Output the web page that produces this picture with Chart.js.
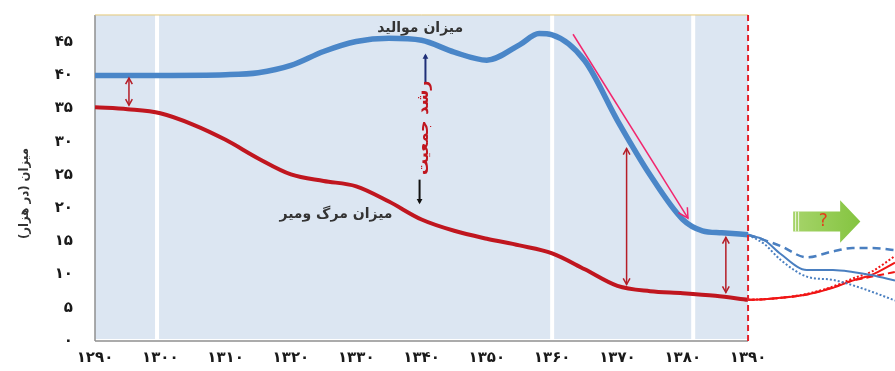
<!DOCTYPE html>
<html lang="fa">
<head>
<meta charset="utf-8">
<script src="https://cdn.jsdelivr.net/npm/chart.js@4/dist/chart.umd.min.js"></script>
<style>
  html, body { margin: 0; padding: 0; background: #ffffff; }
  #wrap { position: relative; width: 895px; height: 371px; }
  canvas { display: block; }
</style>
</head>
<body>
<div id="wrap"><canvas id="chart" width="895" height="371" dir="rtl"></canvas></div>
<script>
// Crude birth rate (per thousand), 1290–1390
const birthYears = [1290, 1300, 1310, 1315, 1320, 1325, 1330, 1335, 1340, 1345, 1350, 1355, 1358, 1360, 1365, 1370, 1375, 1380, 1383, 1386, 1390];
const birthRate  = [40.0, 40.0, 40.1, 40.4, 41.5, 43.6, 45.1, 45.6, 45.3, 43.5, 42.3, 44.6, 46.3, 46.1, 42.2, 33.2, 25.0, 18.3, 16.6, 16.3, 16.0];

// Crude death rate (per thousand), 1290–1390
const deathYears = [1290, 1295, 1300, 1305, 1310, 1315, 1320, 1325, 1330, 1335, 1340, 1345, 1350, 1355, 1360, 1365, 1370, 1375, 1380, 1385, 1390];
const deathRate  = [35.2, 34.9, 34.3, 32.6, 30.3, 27.5, 25.1, 24.1, 23.3, 21.0, 18.3, 16.6, 15.4, 14.4, 13.2, 10.8, 8.3, 7.5, 7.2, 6.8, 6.2];

// Projection scenarios after 1390
const projYears     = [1390, 1392.5, 1395, 1399, 1403, 1406, 1409, 1412.5];
const birthProjMid  = [16.0, 15.2, 13.1, 10.7, 10.7, 10.4, 9.9, 9.1];
const birthProjHigh = [16.0, 15.2, 14.3, 12.6, 13.5, 14.0, 14.0, 13.7];
const birthProjLow  = [16.0, 14.6, 12.2, 9.7, 9.2, 8.4, 7.4, 6.1];
const deathProjMid  = [6.2, 6.3, 6.5, 7.0, 8.0, 9.1, 10.0, 11.8];
const deathProjLow  = [6.2, 6.3, 6.5, 7.0, 8.1, 9.1, 9.7, 10.4];
const deathProjHigh = [6.2, 6.3, 6.5, 7.1, 8.2, 9.4, 10.5, 12.8];

// Axis ticks
const xTickYears  = [1290, 1300, 1310, 1320, 1330, 1340, 1350, 1360, 1370, 1380, 1390];
const xTickLabels = ['۱۲۹۰', '۱۳۰۰', '۱۳۱۰', '۱۳۲۰', '۱۳۳۰', '۱۳۴۰', '۱۳۵۰', '۱۳۶۰', '۱۳۷۰', '۱۳۸۰', '۱۳۹۰'];
const yTickValues = [0, 5, 10, 15, 20, 25, 30, 35, 40, 45];
const yTickLabels = ['۰', '۵', '۱۰', '۱۵', '۲۰', '۲۵', '۳۰', '۳۵', '۴۰', '۴۵'];
const yAxisTitle  = 'میزان (در هزار)';

// Period boundaries (years) shown as white dividers
const periodBreaks = [1299.5, 1360, 1381.6];

// Gap arrows between the two rates: [year, from, to]
const gapArrows = [[1295.2, 39.6, 35.5], [1371.4, 29.0, 8.5], [1386.6, 15.6, 7.3]];

const FONT = "'DejaVu Sans', sans-serif";
const FONT_NARROW = "'DejaVu Sans Condensed', 'DejaVu Sans', sans-serif";
const pts = (xs, ys) => xs.map((v, i) => ({ x: v, y: ys[i] }));

function line(ctx, x1, y1, x2, y2) {
  ctx.beginPath(); ctx.moveTo(x1, y1); ctx.lineTo(x2, y2); ctx.stroke();
}
function head(ctx, x1, y1, x2, y2, size, filled) {
  const a = Math.atan2(y2 - y1, x2 - x1);
  ctx.beginPath();
  ctx.moveTo(x2 - size * Math.cos(a - 0.5), y2 - size * Math.sin(a - 0.5));
  ctx.lineTo(x2, y2);
  ctx.lineTo(x2 - size * Math.cos(a + 0.5), y2 - size * Math.sin(a + 0.5));
  if (filled) { ctx.closePath(); ctx.fill(); } else { ctx.stroke(); }
}

const decorations = {
  id: 'decorations',
  beforeDatasetsDraw(chart) {
    const { ctx, scales: { x, y } } = chart;
    const L = x.getPixelForValue(1290), R = x.getPixelForValue(1390);
    const T = y.getPixelForValue(49.1), B = y.getPixelForValue(0);
    ctx.save();
    ctx.fillStyle = '#dce6f2';
    ctx.fillRect(L, T, R - L, B - T - 2);
    ctx.strokeStyle = '#ffffff';
    ctx.lineWidth = 4;
    periodBreaks.forEach(yr => { const px = x.getPixelForValue(yr); line(ctx, px, T, px, B - 2); });
    ctx.strokeStyle = '#8f8f8f';
    ctx.lineWidth = 1.5;
    line(ctx, L, T, L, B);
    line(ctx, L, B, R, B);
    ctx.strokeStyle = '#e5c878';
    ctx.lineWidth = 1;
    line(ctx, L, T, R, T);

    // y-axis title, rotated
    ctx.translate(25, y.getPixelForValue(22.2));
    ctx.rotate(-Math.PI / 2);
    ctx.direction = 'rtl';
    ctx.textAlign = 'center';
    ctx.textBaseline = 'middle';
    ctx.fillStyle = '#333333';
    ctx.font = 'bold 13px ' + FONT_NARROW;
    ctx.fillText(yAxisTitle, 0, 0);
    ctx.restore();
  },
  afterDatasetsDraw(chart) {
    const { ctx, scales: { x, y } } = chart;
    const px = v => x.getPixelForValue(v), py = v => y.getPixelForValue(v);
    ctx.save();

    // end of observed period
    ctx.strokeStyle = '#e3202b';
    ctx.lineWidth = 2;
    ctx.setLineDash([6, 4]);
    line(ctx, px(1390), py(49.1), px(1390), py(0));
    ctx.setLineDash([]);

    // natural growth gaps
    ctx.strokeStyle = '#b51d27';
    ctx.lineWidth = 1.5;
    gapArrows.forEach(([yr, a, b]) => {
      const X = px(yr), Y1 = py(a), Y2 = py(b);
      line(ctx, X, Y1, X, Y2);
      head(ctx, X, Y2, X, Y1, 7, false);
      head(ctx, X, Y1, X, Y2, 7, false);
    });

    // fall of the birth rate
    ctx.strokeStyle = '#f2266e';
    ctx.lineWidth = 1.5;
    const ax1 = px(1363.2), ay1 = py(46.2), ax2 = px(1380.8), ay2 = py(18.5);
    line(ctx, ax1, ay1, ax2, ay2);
    head(ctx, ax1, ay1, ax2, ay2, 11, false);

    // up / down arrows around the growth label
    ctx.strokeStyle = '#1f2f78'; ctx.fillStyle = '#1f2f78';
    ctx.lineWidth = 2;
    line(ctx, px(1340.6), py(38.8), px(1340.6), py(43.0));
    head(ctx, px(1340.6), py(38.8), px(1340.6), py(43.3), 6, true);
    ctx.strokeStyle = '#111111'; ctx.fillStyle = '#111111';
    line(ctx, px(1339.7), py(24.3), px(1339.7), py(20.9));
    head(ctx, px(1339.7), py(24.3), px(1339.7), py(20.6), 6, true);

    // series labels
    ctx.direction = 'rtl';
    ctx.textAlign = 'center';
    ctx.textBaseline = 'middle';
    ctx.fillStyle = '#333333';
    ctx.font = 'bold 14px ' + FONT;
    ctx.fillText('میزان موالید', px(1339.8), py(47.1));
    ctx.fillText('میزان مرگ ومیر', px(1326.9), py(19.0));

    // vertical growth label
    ctx.save();
    ctx.translate(px(1340.4), py(32.1));
    ctx.rotate(-Math.PI / 2);
    ctx.fillStyle = '#c0161f';
    ctx.font = 'bold 16px ' + FONT;
    ctx.fillText('رشد جمعیت', 0, 0);
    ctx.restore();

    // outlook arrow
    const gx1 = px(1396.9), gx2 = px(1404.1), gx3 = px(1407.2);
    const gyTop = py(19.5), gyBot = py(16.5), hTop = py(21.2), hBot = py(14.8), gMid = py(18.0);
    const grad = ctx.createLinearGradient(gx1, 0, gx3, 0);
    grad.addColorStop(0, '#a6d46a');
    grad.addColorStop(1, '#84c440');
    ctx.fillStyle = grad;
    ctx.beginPath();
    ctx.moveTo(gx1, gyTop); ctx.lineTo(gx2, gyTop); ctx.lineTo(gx2, hTop);
    ctx.lineTo(gx3, gMid);
    ctx.lineTo(gx2, hBot); ctx.lineTo(gx2, gyBot); ctx.lineTo(gx1, gyBot);
    ctx.closePath(); ctx.fill();
    ctx.strokeStyle = '#eef7e0';
    ctx.lineWidth = 1;
    [2.5, 5.5].forEach(d => line(ctx, gx1 + d, gyTop, gx1 + d, gyBot));
    ctx.direction = 'ltr';
    ctx.fillStyle = '#e2401c';
    ctx.font = '17px ' + FONT;
    ctx.fillText('?', px(1401.5), py(18.0));

    ctx.restore();
  }
};

new Chart(document.getElementById('chart'), {
  type: 'line',
  data: {
    datasets: [
      { data: pts(birthYears, birthRate), borderColor: '#4a86c8', borderWidth: 5.5 },
      { data: pts(deathYears, deathRate), borderColor: '#c0161f', borderWidth: 4 },
      { data: pts(projYears, birthProjMid), borderColor: '#4a7fc0', borderWidth: 2 },
      { data: pts(projYears, birthProjHigh), borderColor: '#4a7fc0', borderWidth: 2.5, borderDash: [8, 5] },
      { data: pts(projYears, birthProjLow), borderColor: '#4a7fc0', borderWidth: 2, borderDash: [2, 2] },
      { data: pts(projYears, deathProjMid), borderColor: '#f01515', borderWidth: 2 },
      { data: pts(projYears, deathProjLow), borderColor: '#f01515', borderWidth: 2, borderDash: [7, 4] },
      { data: pts(projYears, deathProjHigh), borderColor: '#f01515', borderWidth: 2, borderDash: [2, 2] }
    ]
  },
  options: {
    responsive: false,
    animation: false,
    devicePixelRatio: 1,
    layout: { padding: { top: 9, left: 0, right: 0, bottom: 0 } },
    elements: {
      point: { radius: 0 },
      line: { tension: 0.4, cubicInterpolationMode: 'monotone', fill: false }
    },
    plugins: { legend: { display: false }, tooltip: { enabled: false } },
    scales: {
      x: {
        type: 'linear', min: 1290, max: 1412.5,
        grid: { display: false, drawTicks: true, tickLength: 8 },
        border: { display: false },
        afterBuildTicks: s => { s.ticks = xTickYears.map(v => ({ value: v })); },
        afterFit: s => { s.height = 30; },
        ticks: {
          autoSkip: false, maxRotation: 0, padding: 0, color: '#1a1a1a',
          font: { family: FONT, size: 15, weight: 'bold' },
          callback: v => { const i = xTickYears.indexOf(v); return i >= 0 ? xTickLabels[i] : ''; }
        }
      },
      y: {
        min: 0, max: 50,
        grid: { display: false, drawTicks: true, tickLength: 22 },
        border: { display: false },
        afterBuildTicks: s => { s.ticks = yTickValues.map(v => ({ value: v })); },
        afterFit: s => { s.width = 95; },
        ticks: {
          padding: 0, color: '#1a1a1a',
          font: { family: FONT, size: 15, weight: 'bold' },
          callback: v => { const i = yTickValues.indexOf(v); return i >= 0 ? yTickLabels[i] : ''; }
        }
      }
    }
  },
  plugins: [decorations]
});
</script>
</body>
</html>
